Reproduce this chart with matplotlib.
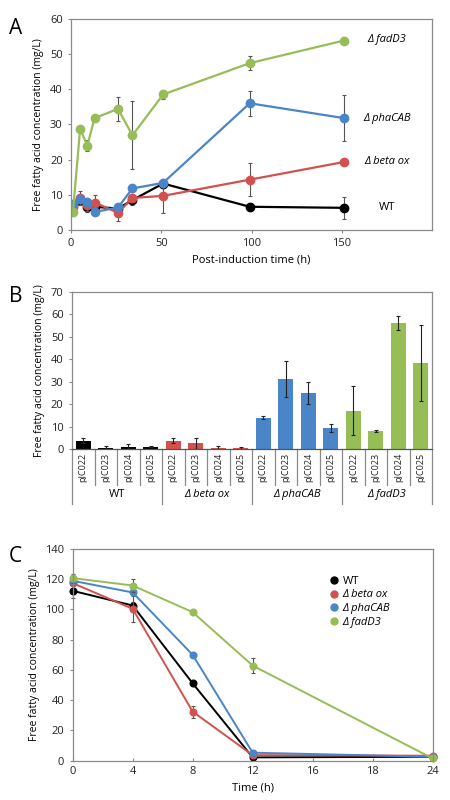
import numpy as np
import matplotlib
matplotlib.use('Agg')
import matplotlib.pyplot as plt
import matplotlib.transforms as mtransforms

plt.rcParams['font.family'] = ['Open Sans', 'DejaVu Sans']
plt.rcParams['font.size'] = 8

# panel A: time course
a_time = [1, 5, 9, 13, 26, 34, 51, 99, 151]
a_wt = [7.0, 8.5, 6.6, 6.6, 6.1, 8.5, 13.2, 6.6, 6.3]
a_wt_err = [1.5, 1.5, 1.5, 1.0, 1.0, 1.5, 1.0, 1.0, 3.2]
a_beta = [6.6, 9.2, 7.0, 7.8, 4.9, 9.1, 9.7, 14.3, 19.3]
a_beta_err = [1.0, 2.0, 1.5, 2.2, 2.3, 1.0, 4.8, 4.7, 0.7]
a_pha = [7.5, 8.7, 8.0, 5.1, 6.4, 11.8, 13.4, 36.0, 31.8]
a_pha_err = [1.0, 1.0, 1.0, 0.5, 1.0, 0.8, 1.0, 3.6, 6.5]
a_fad = [5.1, 28.7, 24.0, 31.8, 34.4, 26.9, 38.5, 47.4, 53.8]
a_fad_err = [1.0, 0.5, 1.5, 1.0, 3.3, 9.7, 1.2, 2.0, 1.0]
a_labels = ['WT', 'Δ beta ox', 'Δ phaCAB', 'Δ fadD3']
a_label_y = [6.5, 19.5, 31.6, 54.0]

# panel B: bars
b_groups = ['WT', 'Δ beta ox', 'Δ phaCAB', 'Δ fadD3']
b_plasmids = ['pJC022', 'pJC023', 'pJC024', 'pJC025']
b_vals = [[3.9, 0.6, 1.2, 1.2],
          [3.9, 2.7, 0.5, 0.5],
          [14.1, 31.1, 25.0, 9.3],
          [17.2, 8.0, 56.3, 38.3]]
b_errs = [[1.0, 1.0, 1.0, 0.3],
          [1.1, 2.5, 0.8, 0.6],
          [0.8, 8.0, 5.0, 1.8],
          [11.0, 0.5, 3.0, 17.0]]

# panel C: degradation
c_ticks = ['0', '4', '8', '12', '16', '18', '24']
c_pos = [0, 1, 2, 3, 6]
c_wt = [112.2, 102.5, 51.1, 2.2, 2.6]
c_wt_err = [4.5, 2.0, 1.5, 1.0, 0.5]
c_beta = [117.3, 100.3, 32.4, 3.7, 3.3]
c_beta_err = [2.0, 9.0, 4.0, 1.0, 0.5]
c_pha = [118.8, 111.1, 69.9, 5.3, 2.6]
c_pha_err = [2.0, 2.0, 1.0, 1.0, 0.5]
c_fad = [120.6, 115.7, 98.1, 62.8, 1.5]
c_fad_err = [3.0, 4.0, 1.0, 5.2, 0.5]

colors = ['#000000', '#D2514E', '#4A85C8', '#97BD56']
spine_col = '#8a8a8a'
ylab = 'Free fatty acid concentration (mg/L)'


def style_box(ax):
    for s in ax.spines.values():
        s.set_color(spine_col)
        s.set_linewidth(0.9)
    ax.tick_params(color=spine_col, length=2.5, width=0.8, labelsize=8, colors='#222222')


fig = plt.figure(figsize=(4.5, 8), dpi=100)

# ---- A ----
ax = fig.add_axes([0.158, 0.7125, 0.802, 0.264])
series = [(a_wt, a_wt_err), (a_beta, a_beta_err), (a_pha, a_pha_err), (a_fad, a_fad_err)]
for (y, e), c in zip(series, colors):
    ax.errorbar(a_time, y, yerr=e, fmt='none', ecolor='#555555', elinewidth=0.8, capsize=1.5, capthick=0.8)
    ax.plot(a_time, y, '-o', color=c, lw=1.6, ms=6)
for lab, yy in zip(a_labels, a_label_y):
    ax.text(175, yy, lab, ha='center', va='center', fontsize=8,
            style='normal' if lab == 'WT' else 'italic')
ax.set_xlim(0, 200)
ax.set_ylim(0, 60)
ax.set_xticks([0, 50, 100, 150])
ax.set_yticks(range(0, 61, 10))
ax.set_xlabel('Post-induction time (h)', fontsize=8)
ax.set_ylabel(ylab, fontsize=7.5)
style_box(ax)
fig.text(0.02, 0.978, 'A', fontsize=15, va='top')

# ---- B ----
ax = fig.add_axes([0.16, 0.4384, 0.8, 0.1966])
n = len(b_plasmids)
for gi, (vals, errs) in enumerate(zip(b_vals, b_errs)):
    xs = np.arange(n) + gi * n
    ax.bar(xs, vals, width=0.68, color=colors[gi])
    ax.errorbar(xs, vals, yerr=errs, fmt='none', ecolor='#222222', elinewidth=0.8, capsize=1.5, capthick=0.8)
ntot = n * len(b_groups)
ax.set_xlim(-0.5, ntot - 0.5)
ax.set_ylim(0, 70)
ax.set_yticks(range(0, 71, 10))
ax.set_xticks([])
ax.set_ylabel(ylab, fontsize=7.5)
style_box(ax)
ax.spines['bottom'].set_color('#555555')
trans = mtransforms.blended_transform_factory(ax.transData, ax.transAxes)
for i in range(ntot + 1):
    xb = i - 0.5
    low = -0.345 if i % n == 0 else -0.23
    ax.plot([xb, xb], [0, low], color=spine_col, lw=0.9, transform=trans, clip_on=False)
for gi, g in enumerate(b_groups):
    for pi, p in enumerate(b_plasmids):
        ax.text(gi * n + pi, -0.025, p, rotation=90, ha='center', va='top', fontsize=6.5,
                transform=trans, color='#222222')
    ax.text(gi * n + (n - 1) / 2, -0.29, g, ha='center', va='center', fontsize=8,
            transform=trans, style='normal' if g == 'WT' else 'italic')
fig.text(0.02, 0.643, 'B', fontsize=15, va='top')

# ---- C ----
ax = fig.add_axes([0.1615, 0.0491, 0.8, 0.265])
cseries = [(c_wt, c_wt_err), (c_beta, c_beta_err), (c_pha, c_pha_err), (c_fad, c_fad_err)]
for (y, e), c in zip(cseries, colors):
    ax.errorbar(c_pos, y, yerr=e, fmt='none', ecolor='#555555', elinewidth=0.8, capsize=1.5,
                capthick=0.8, clip_on=False)
    ax.plot(c_pos, y, '-o', color=c, lw=1.4, ms=4.8, clip_on=False)
ax.set_xlim(0, len(c_ticks) - 1)
ax.set_ylim(0, 140)
ax.set_xticks(range(len(c_ticks)))
ax.set_xticklabels(c_ticks)
ax.set_yticks(range(0, 141, 20))
ax.set_xlabel('Time (h)', fontsize=8)
ax.set_ylabel(ylab, fontsize=7.5)
style_box(ax)
ax.tick_params(axis='x', direction='in')
leg_handles = [plt.Line2D([], [], marker='o', ls='none', color=c, ms=5) for c in colors]
leg = ax.legend(leg_handles, a_labels, loc='upper right', bbox_to_anchor=(0.91, 0.92),
                frameon=False, fontsize=8, handletextpad=0.2, labelspacing=0.25, handlelength=1.2)
for t in leg.get_texts()[1:]:
    t.set_style('italic')
fig.text(0.02, 0.318, 'C', fontsize=15, va='top')

fig.savefig('out.png', dpi=100)
